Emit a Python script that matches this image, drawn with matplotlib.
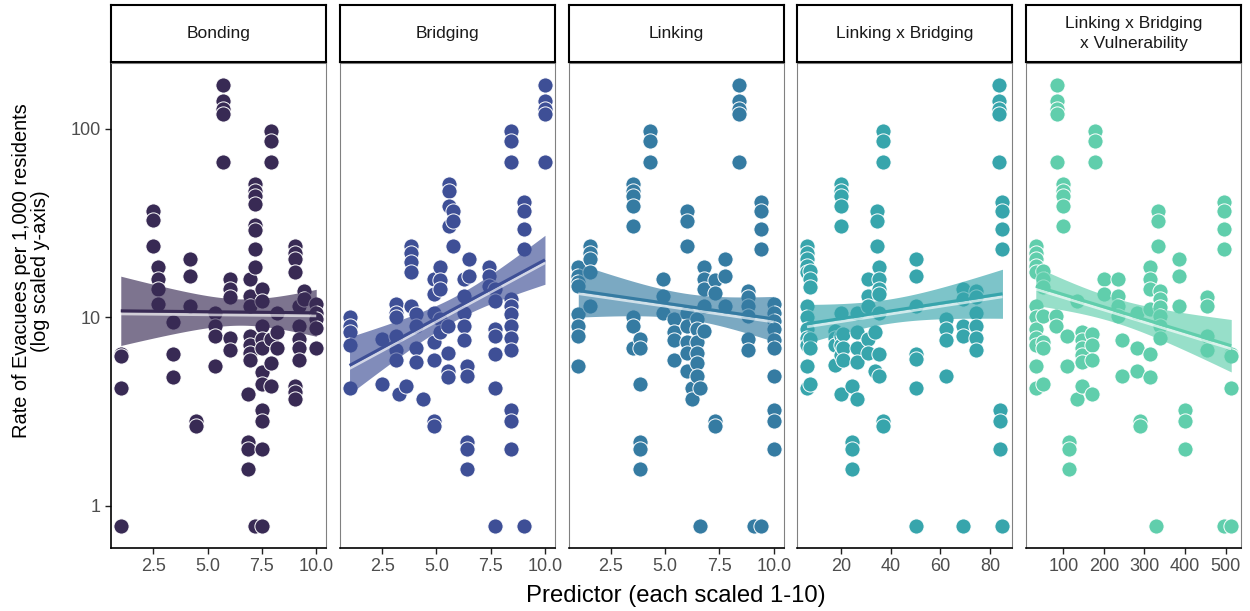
# Evakuierungsraten je Praediktor, fuenf Facetten mit log-skalierter y-Achse
import numpy as np
import matplotlib
matplotlib.use('Agg')
import matplotlib.pyplot as plt
import matplotlib.patheffects as pe

plt.rcParams['font.family'] = ['Liberation Sans', 'DejaVu Sans']

# Daten: (x-Wert, [Raten pro 1.000 Einwohner]) je Spalte
bonding = [
    (1.0, [6.4, 6.2, 4.2, 0.78]),
    (2.5, [36.8, 33, 24]),
    (2.7, [18.4, 16, 14.1, 11.7]),
    (3.4, [9.4, 6.4, 4.8]),
    (4.2, [20.4, 16.6, 11.5]),
    (4.45, [2.83, 2.66]),
    (5.35, [10.6, 9.0, 8.0, 5.5]),
    (5.7, [171, 141, 128, 120, 67]),
    (6.05, [16, 14.1, 12.8, 7.8, 6.7]),
    (6.85, [3.9, 2.17, 2.0, 1.57]),
    (6.95, [16, 13, 11.5, 8, 7.1, 6.5, 5.9]),
    (7.2, [51, 47, 44, 40, 31, 29, 23, 18.4, 0.78]),
    (7.5, [14.1, 12.2, 9.0, 7.7, 6.9, 5.1, 4.4, 3.2, 2.83, 2.0, 0.78]),
    (7.9, [98, 86, 67, 7.7, 5.7, 4.3]),
    (8.2, [10.6, 8.4, 6.9]),
    (9.0, [24, 22, 20.4, 17.3, 4.3, 4.0, 3.7]),
    (9.2, [11.5, 9.0, 7.7, 6.9, 5.9]),
    (9.45, [13.8, 12.5]),
    (10.0, [11.7, 10.6, 9.8, 8.8, 6.9]),
]
bridging = [
    (1.0, [10, 9.0, 8.4, 7.1, 4.2]),
    (2.5, [7.7, 4.4]),
    (3.15, [11.7, 10.6, 10, 8, 6.7, 5.9]),
    (3.3, [3.9]),
    (3.6, [4.3]),
    (3.85, [24, 22, 19.6, 17.3, 11.5]),
    (4.05, [10.4, 9.0, 6.9, 5.8]),
    (4.4, [3.7]),
    (4.9, [16, 13.3, 10.6, 7.4, 5.9, 2.83, 2.66]),
    (5.15, [18.4, 15.8, 14.1, 9.8, 8.4]),
    (5.55, [9.0, 6.5, 5.2, 4.8]),
    (5.6, [51, 47, 39, 30.7]),
    (5.75, [36.8, 32.6, 24]),
    (6.25, [16, 13, 10.6, 9.0, 7.6]),
    (6.4, [5.5, 4.9, 2.17, 2.0, 1.57]),
    (6.5, [20.4, 16.6]),
    (7.4, [18.4, 16.6, 14.7]),
    (7.7, [14.1, 12.2, 8.7, 8.0, 6.4, 4.2, 0.78]),
    (8.45, [98, 86, 67, 12.5, 11.5, 10.4, 9.0, 7.8, 6.7, 3.2, 2.83, 2.0]),
    (9.05, [40.7, 36.8, 29.4, 23, 0.78]),
    (10.0, [171, 141, 128, 120, 67]),
]
linking = [
    (1.0, [18.4, 16.6, 15.3, 14.7, 10.4, 9.0, 8.0, 5.5]),
    (1.55, [24, 22, 20.4, 17.3, 11.5]),
    (3.5, [51, 47, 44, 39, 30.7, 10, 9.0, 6.9]),
    (3.85, [7.7, 6.9, 4.4, 2.17, 2.0, 1.57]),
    (4.3, [98, 86, 67]),
    (4.9, [16, 13, 10.6]),
    (5.4, [9.8, 8.4, 7.6, 5.9]),
    (6.0, [36.8, 32.6, 24, 10.6, 9.0, 7.4, 6.5, 5.2]),
    (6.25, [4.2, 3.7]),
    (6.45, [9.8, 8.7, 7.4, 6.5, 5.7, 4.9]),
    (6.6, [4.2, 0.78]),
    (6.8, [18.4, 16, 14.1, 11.5, 8.5]),
    (7.3, [15.8, 13.5, 2.83, 2.66]),
    (7.75, [20.4, 16.6, 11.5]),
    (8.4, [171, 141, 128, 120, 67]),
    (8.8, [13.8, 12.8, 11.5, 10.2, 7.7, 6.7]),
    (9.1, [0.78]),
    (9.4, [40.7, 36.8, 29.4, 23, 0.78]),
    (10.0, [11.7, 10.6, 9.6, 8.7, 7.6, 6.9, 4.9, 3.2, 2.83, 2.0]),
]
link_bridge = [
    (6.3, [24, 22, 20.4, 18.8, 17.3, 11.5, 10, 8.7, 7.8, 7.1, 5.5, 4.2]),
    (7.6, [17.7, 16, 14.5, 7.7, 6.9, 4.4]),
    (17.6, [8.5, 7.8, 7.1, 5.6]),
    (19.9, [51, 47, 44, 39, 30.7, 10.6, 8.0, 7.1, 6.3, 3.9]),
    (20.9, [8.2, 6.9, 5.9]),
    (24.3, [4.3, 2.17, 2.0, 1.57]),
    (26.3, [10.6, 8.4, 6.9, 5.8, 3.7]),
    (31.0, [16, 13, 11.5, 7.7, 6.5]),
    (33.6, [8.4, 5.2]),
    (34.3, [36.8, 32.6, 24]),
    (35.4, [18.4, 16, 14.1, 13.3, 10.6, 6.4, 4.9]),
    (36.7, [98, 86, 67, 2.83, 2.66]),
    (50.3, [20.4, 16.6, 11.5, 6.4, 6.0, 4.2, 0.78]),
    (62.4, [9.8, 8.7, 7.6, 4.9]),
    (69.0, [14.1, 12.5, 9.0, 8.0, 0.78]),
    (74.4, [13.8, 12.8, 10.6, 9.0, 7.8, 6.7]),
    (83.5, [171, 141, 128, 120, 67]),
    (84.0, [3.2, 2.83, 2.0]),
    (85.0, [40.7, 36.8, 29.4, 23, 0.78]),
]
link_bridge_vuln = [
    (32, [24, 22, 20.4, 18.8, 17.3, 11.5, 10, 8.7, 7.8, 7.1, 5.5, 4.2]),
    (48.6, [17.7, 16, 14.5, 10.2, 7.4, 6.9, 4.4]),
    (81, [10.2, 9.0]),
    (83.7, [171, 141, 128, 120, 67]),
    (98, [51, 47, 44, 39, 30.7]),
    (108, [8.0, 5.5]),
    (115, [2.17, 2.0, 1.57]),
    (133, [12.2, 3.7]),
    (145, [8.4, 7.6, 6.9, 6.3, 5.8, 4.3]),
    (171, [8.2, 7.1, 5.9, 3.9]),
    (177.6, [98, 86, 67]),
    (199.6, [16, 13.3]),
    (234.7, [16, 13, 11.5, 10.2]),
    (244.5, [7.6, 4.9]),
    (281, [10.6, 6.9, 5.2]),
    (289, [2.83, 2.66]),
    (314, [18.4, 16, 14.1, 11, 6.4, 4.8]),
    (327.8, [0.78]),
    (332.7, [36.8, 32.6, 24]),
    (338, [13.8, 12.5, 11.3, 10.2, 9.0, 7.8]),
    (385.7, [20.4, 16.6, 11.5]),
    (401, [3.2, 2.83, 2.0]),
    (455, [12.8, 11.5, 8.0, 6.7]),
    (495, [0.78]),
    (496, [40.7, 36.8, 29.4, 23]),
    (514, [6.4, 6.2, 4.2, 0.78]),
]

titles = ['Bonding', 'Bridging', 'Linking', 'Linking x Bridging',
          'Linking x Bridging\nx Vulnerability']
panels = [bonding, bridging, linking, link_bridge, link_bridge_vuln]
colors = ['#382A54', '#3E4F96', '#357BA2', '#37A5AC', '#60CEAC']
xticks = [[2.5, 5, 7.5, 10], [2.5, 5, 7.5, 10], [2.5, 5, 7.5, 10],
          [20, 40, 60, 80], [100, 200, 300, 400, 500]]
xticklabels = [['2.5', '5.0', '7.5', '10.0']] * 3 + \
              [['20', '40', '60', '80'], ['100', '200', '300', '400', '500']]

ci_mult = 1.38  # Breite des Konfidenzbands (in Standardfehlern)

W, H = 1250, 611
fig = plt.figure(figsize=(W / 100, H / 100), dpi=100)


def box(x0, y0, x1, y1):
    return [x0 / W, 1 - y1 / H, (x1 - x0) / W, (y1 - y0) / H]


# gemeinsame y-Grenzen (log10, 5 % Rand)
all_y = np.concatenate([np.concatenate([c[1] for c in p]) for p in panels])
lmin, lmax = np.log10(all_y.min()), np.log10(all_y.max())
pad = 0.05 * (lmax - lmin)
ylim = (10 ** (lmin - pad), 10 ** (lmax + pad))

left0, step, width = 111, 228.75, 215
for i, cols in enumerate(panels):
    x0 = left0 + i * step
    ax = fig.add_axes(box(x0, 63, x0 + width, 548))
    xs = np.concatenate([[x] * len(ys) for x, ys in cols]).astype(float)
    ys = np.concatenate([ys for x, ys in cols]).astype(float)
    col = colors[i]

    ax.scatter(xs, ys, s=120, c=col, edgecolors='white', linewidths=0.7, zorder=2)

    # lineare Regression auf log10(y) mit Band
    ly = np.log10(ys)
    b, a = np.polyfit(xs, ly, 1)
    n = len(xs)
    resid = ly - (a + b * xs)
    s = np.sqrt(np.sum(resid ** 2) / (n - 2))
    grid = np.linspace(xs.min(), xs.max(), 100)
    pred = a + b * grid
    se = s * np.sqrt(1 / n + (grid - xs.mean()) ** 2 / np.sum((xs - xs.mean()) ** 2))
    ax.fill_between(grid, 10 ** (pred - ci_mult * se), 10 ** (pred + ci_mult * se),
                    color=col, alpha=0.65, lw=0, zorder=3)
    ax.plot(grid, 10 ** pred, color=col, lw=2.2, zorder=4, solid_capstyle='butt',
            path_effects=[pe.SimpleLineShadow(offset=(0, -2.2), shadow_color='white',
                                              alpha=0.65, linewidth=2.0),
                          pe.Normal()])

    ax.set_yscale('log')
    ax.set_ylim(*ylim)
    xr = xs.max() - xs.min()
    ax.set_xlim(xs.min() - 0.05 * xr, xs.max() + 0.05 * xr)
    ax.set_xticks(xticks[i])
    ax.set_xticklabels(xticklabels[i])
    ax.minorticks_off()
    ax.tick_params(axis='both', direction='out', length=4, width=1, color='#222222',
                   labelcolor='#4d4d4d', labelsize=13, pad=3.5)
    if i == 0:
        ax.set_yticks([1, 10, 100])
        ax.set_yticklabels(['1', '10', '100'])
    else:
        ax.set_yticks([])
    for side in ['top', 'right', 'left']:
        ax.spines[side].set_color('#808080')
        ax.spines[side].set_linewidth(0.8)
    ax.spines['bottom'].set_color('black')
    ax.spines['bottom'].set_linewidth(1.2)
    if i == 0:
        ax.spines['left'].set_color('black')
        ax.spines['left'].set_linewidth(1.2)

    # Streifen mit Facettentitel
    st = fig.add_axes(box(x0, 5, x0 + width, 62))
    st.set_xticks([])
    st.set_yticks([])
    for sp in st.spines.values():
        sp.set_color('black')
        sp.set_linewidth(1.5)
    st.text(0.5, 0.5, titles[i], ha='center', va='center', fontsize=12.5,
            color='#1a1a1a', linespacing=1.45, transform=st.transAxes)

fig.text(676 / W, 1 - 596 / H, 'Predictor (each scaled 1-10)', ha='center',
         va='center', fontsize=17.2, color='black')
fig.text(31 / W, 1 - 271 / H, 'Rate of Evacuees per 1,000 residents\n(log scaled y-axis)',
         ha='center', va='center', rotation=90, fontsize=14.4, color='black',
         multialignment='center', linespacing=1.0)

plt.savefig('out.png', dpi=100)
